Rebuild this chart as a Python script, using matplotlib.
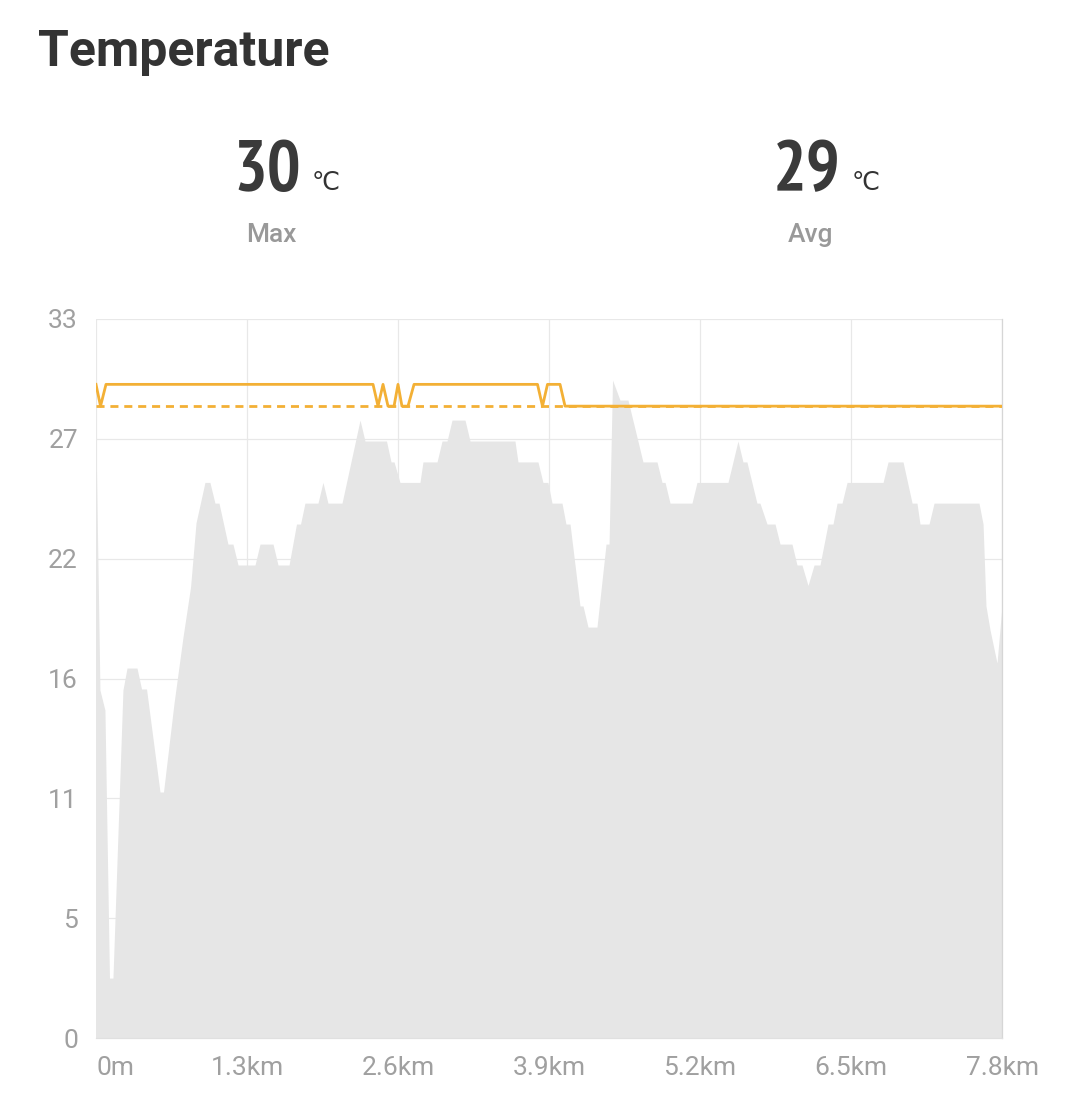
import os
import matplotlib
matplotlib.use("Agg")
import matplotlib.pyplot as plt
from matplotlib import font_manager as fm

# ---------------- data ----------------
title = "Temperature"
max_temp = 30
avg_temp = 29
unit = "\u2103"
max_label = "Max"
avg_label = "Avg"

# grey area series (distance in km, temperature)
area_km = [0.000, 0.034, 0.077, 0.116, 0.146, 0.232, 0.267, 0.353, 0.392, 0.435,
           0.551, 0.581, 0.672, 0.749, 0.814, 0.861, 0.938, 0.981, 1.024, 1.059,
           1.136, 1.179, 1.223, 1.369, 1.412, 1.524, 1.567, 1.662, 1.726, 1.761,
           1.799, 1.911, 1.954, 1.997, 2.118, 2.273, 2.316, 2.501, 2.540, 2.566,
           2.617, 2.789, 2.815, 2.936, 2.979, 3.022, 3.065, 3.177, 3.220, 3.607,
           3.633, 3.805, 3.848, 3.891, 3.926, 4.012, 4.046, 4.081, 4.167, 4.193,
           4.236, 4.313, 4.391, 4.417, 4.447, 4.511, 4.580, 4.709, 4.830, 4.873,
           4.899, 4.942, 5.131, 5.174, 5.441, 5.527, 5.570, 5.604, 5.690, 5.716,
           5.777, 5.846, 5.889, 5.992, 6.035, 6.078, 6.130, 6.182, 6.233, 6.302,
           6.345, 6.380, 6.423, 6.466, 6.776, 6.819, 6.948, 7.026, 7.068, 7.094,
           7.172, 7.215, 7.602, 7.637, 7.662, 7.697, 7.757, 7.800]
area_temp = [27.45, 15.97, 15.05, 2.75, 2.75, 15.97, 16.98, 16.98, 16.02, 16.02,
             11.29, 11.29, 15.38, 18.40, 20.70, 23.64, 25.50, 25.50, 24.55, 24.55,
             22.67, 22.67, 21.71, 21.71, 22.67, 22.67, 21.71, 21.71, 23.59, 23.59,
             24.55, 24.55, 25.50, 24.55, 24.55, 28.36, 27.40, 27.40, 26.44, 26.44,
             25.50, 25.50, 26.44, 26.44, 27.40, 27.40, 28.36, 28.36, 27.40, 27.40,
             26.44, 26.44, 25.50, 25.50, 24.55, 24.55, 23.59, 23.59, 19.83, 19.83,
             18.86, 18.86, 22.67, 22.67, 30.20, 29.28, 29.28, 26.44, 26.44, 25.50,
             25.50, 24.55, 24.55, 25.50, 25.50, 27.40, 26.44, 26.44, 24.55, 24.55,
             23.59, 23.59, 22.67, 22.67, 21.71, 21.71, 20.77, 21.71, 21.71, 23.59,
             23.59, 24.55, 24.55, 25.50, 25.50, 26.44, 26.44, 24.55, 24.55, 23.59,
             23.59, 24.55, 24.55, 23.59, 19.83, 18.73, 17.21, 19.83]

# orange series
line_km = [0.000, 0.039, 0.086, 2.385, 2.428, 2.471, 2.514, 2.566, 2.600, 2.634,
           2.686, 2.738, 3.801, 3.844, 3.887, 3.995, 4.038, 7.800]
line_temp = [30, 29, 30, 30, 29, 30, 29, 29, 30, 29,
             29, 30, 30, 29, 30, 30, 29, 29]

x_ticks = [0, 1.3, 2.6, 3.9, 5.2, 6.5, 7.8]
x_tick_labels = ["0m", "1.3km", "2.6km", "3.9km", "5.2km", "6.5km", "7.8km"]
y_ticks = [0, 5.5, 11, 16.5, 22, 27.5, 33]
y_tick_labels = ["0", "5", "11", "16", "22", "27", "33"]

# ---------------- styling ----------------
ORANGE = "#F3B035"
AREA = "#E6E6E6"
GRID = "#E8E8E8"
TICK = "#A0A0A0"
DARK = "#333333"
SUB = "#999999"

plt.rcParams['font.family'] = ['Roboto', 'DejaVu Sans']


def pick_condensed_bold():
    best = None
    for f in fm.fontManager.ttflist:
        base = os.path.basename(f.fname).lower()
        n = f.name.lower()
        if 'italic' in base or 'oblique' in base:
            continue
        if 'bold' not in base:
            continue
        if 'narrow' in base or 'narrow' in n:
            return fm.FontProperties(fname=f.fname)
        if 'condensed' in base or 'condensed' in n:
            if best is None:
                best = f.fname
    if best:
        return fm.FontProperties(fname=best)
    return None


cond = pick_condensed_bold()

W, H = 1080, 1110
fig = plt.figure(figsize=(W / 100, H / 100), dpi=100)
fig.patch.set_facecolor("white")

ax = fig.add_axes([96 / W, (H - 1038) / H, 906 / W, 719 / H])
ax.set_xlim(0, 7.8)
ax.set_ylim(0, 33)

ax.fill_between(area_km, area_temp, 0, color=AREA, lw=0, zorder=1)
ax.axhline(avg_temp, color=ORANGE, lw=2.0, ls=(0, (2.9, 2.1)), zorder=3)
ax.plot(line_km, line_temp, color=ORANGE, lw=2.0, zorder=4)

ax.set_axisbelow(True)
ax.grid(True, color=GRID, lw=0.9)
for s in ("left", "top"):
    ax.spines[s].set_visible(False)
ax.spines["right"].set_color("#D6D6D6")
ax.spines["right"].set_linewidth(0.9)
ax.spines["bottom"].set_color("#E0E0E0")
ax.spines["bottom"].set_linewidth(0.9)

ax.set_xticks(x_ticks)
ax.set_xticklabels(x_tick_labels)
ax.set_yticks(y_ticks)
ax.set_yticklabels(y_tick_labels)
ax.tick_params(axis="both", length=0, labelsize=19, labelcolor=TICK)
ax.tick_params(axis="x", pad=13)
ax.tick_params(axis="y", pad=13)
ax.get_xticklabels()[0].set_horizontalalignment("left")


def fx(px):
    return px / W


def fy(py):
    return (H - py) / H


fig.text(fx(38), fy(66), title, fontsize=36, fontweight="bold", color=DARK,
         ha="left", va="baseline")

if cond is not None:
    numprops = dict(fontproperties=cond, fontsize=51)
else:
    numprops = dict(fontsize=40, fontweight="bold")

for cx, val, lab in ((271, max_temp, max_label), (811, avg_temp, avg_label)):
    fig.text(fx(cx + 30), fy(190), str(val), color="#3A3A3A", ha="right",
             va="baseline", **numprops)
    fig.text(fx(cx + 41), fy(190), unit, fontsize=18, color=DARK, ha="left",
             va="baseline", family=["DejaVu Sans"])
    fig.text(fx(cx), fy(242), lab, fontsize=19, fontweight="medium", color=SUB,
             ha="center", va="baseline")

fig.savefig("out.png", dpi=100, facecolor="white")
